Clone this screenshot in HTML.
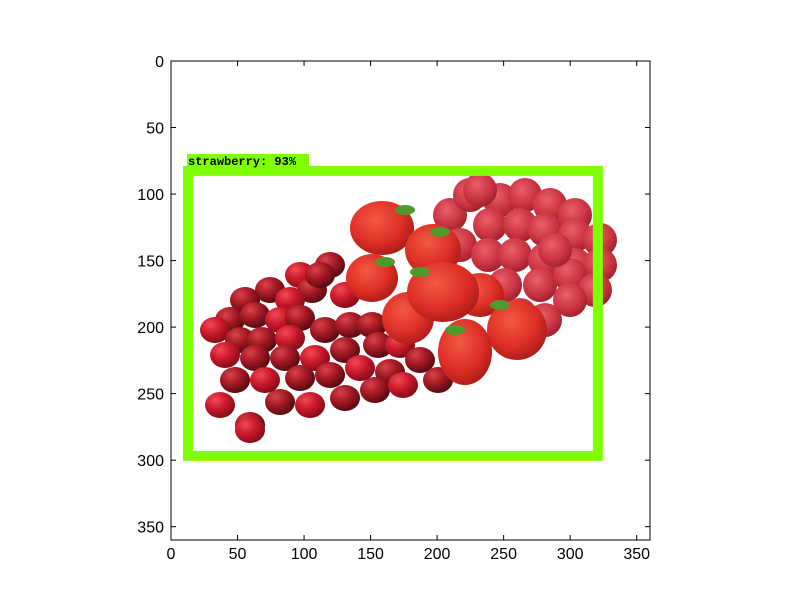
<!DOCTYPE html>
<html><head><meta charset="utf-8"><style>
body{margin:0;background:#fff;width:800px;height:600px;overflow:hidden}
svg text{font-family:"Liberation Sans",sans-serif;font-size:16px;fill:#000}
</style></head><body>
<svg id="c" width="800" height="600" xmlns="http://www.w3.org/2000/svg">
<defs>
<radialGradient id="cran" cx="35%" cy="30%" r="70%"><stop offset="0" stop-color="#d9424a"/><stop offset="0.5" stop-color="#a51a24"/><stop offset="1" stop-color="#5a0a12"/></radialGradient>
<radialGradient id="cran2" cx="35%" cy="30%" r="70%"><stop offset="0" stop-color="#f04a55"/><stop offset="0.5" stop-color="#cc1a2c"/><stop offset="1" stop-color="#8a0c1a"/></radialGradient>
<radialGradient id="straw" cx="40%" cy="35%" r="70%"><stop offset="0" stop-color="#f25a45"/><stop offset="0.6" stop-color="#de2e26"/><stop offset="1" stop-color="#a81a18"/></radialGradient>
<radialGradient id="rasp" cx="40%" cy="35%" r="70%"><stop offset="0" stop-color="#e8606a"/><stop offset="0.6" stop-color="#cc3442"/><stop offset="1" stop-color="#9a1e2c"/></radialGradient>
</defs>
<g id="img"></g>
<g id="axes"></g>
</svg>
<script>
const xTicks=[0,50,100,150,200,250,300,350];
const yTicks=[0,50,100,150,200,250,300,350];
const boxCoords=[12.8,82.6,320.8,296.8];
const boxLabel=["strawberry: 93%"];
const X0=171,Y0=61,S=479/360,W=479,H=479;
const sx=v=>X0+v*S, sy=v=>Y0+v*S;
const NS="http://www.w3.org/2000/svg";
function mk(t,a,p){const e=document.createElementNS(NS,t);for(const k in a)e.setAttribute(k,a[k]);p.appendChild(e);return e;}
const img=document.getElementById('img'), ax=document.getElementById('axes');
// fruit (pixel positions of photo content)
const rasp=[[450,215],[470,195],[500,200],[525,195],[550,205],[575,215],[490,225],[520,225],[545,230],[575,235],[600,240],[460,245],[488,255],[515,255],[545,260],[575,265],[600,265],[505,285],[540,285],[570,275],[595,290],[520,315],[545,320],[570,300],[555,250],[480,190]];
rasp.forEach(p=>{const e=mk('circle',{cx:p[0],cy:p[1],r:17,fill:'url(#rasp)'},img);});
const cran=[[300,275],[330,265],[312,290],[345,295],[270,290],[245,300],[290,300],[230,320],[255,315],[280,320],[300,318],[325,330],[215,330],[240,340],[262,340],[290,338],[350,325],[372,325],[225,355],[255,358],[285,358],[315,358],[345,350],[378,345],[400,345],[410,320],[235,380],[265,380],[300,378],[330,375],[360,368],[390,372],[420,360],[220,405],[250,425],[280,402],[310,405],[345,398],[375,390],[403,385],[438,380],[320,275],[250,430]];
cran.forEach((p,i)=>{const e=mk('ellipse',{cx:p[0],cy:p[1],rx:15,ry:13,fill:i%3==0?'url(#cran2)':'url(#cran)'},img);});
const straw=[[382,228,32,27],[433,250,28,26],[372,278,26,24],[408,318,26,26],[480,295,24,22],[517,330,30,30],[465,352,27,33],[443,292,36,30]];
straw.forEach(p=>{const e=mk('ellipse',{cx:p[0],cy:p[1],rx:p[2],ry:p[3],fill:'url(#straw)'},img);});
[[405,210],[440,232],[385,262],[420,272],[500,305],[455,330]].forEach(p=>{const e=mk('ellipse',{cx:p[0],cy:p[1],rx:10,ry:5,fill:'#4f9a2a'},img);});
// box
const b=mk('rect',{x:sx(boxCoords[0]),y:sy(boxCoords[1]),width:(boxCoords[2]-boxCoords[0])*S,height:(boxCoords[3]-boxCoords[1])*S,fill:'none',stroke:'#7fff00','stroke-width':10},img);

const lb=mk('rect',{x:sx(boxCoords[0])-1,y:sy(boxCoords[1])-17,width:122,height:14,fill:'#7fff00'},img);

const lt=mk('text',{x:sx(boxCoords[0]),y:sy(boxCoords[1])-6,style:'font-family:"Liberation Mono",monospace;font-size:12px;font-weight:bold'},img);
lt.textContent=boxLabel[0];
// frame
const f=mk('rect',{x:X0,y:Y0,width:W,height:H,fill:'none',stroke:'#000','stroke-width':1},ax);

xTicks.forEach(v=>{const x=sx(v);
mk('line',{x1:x,x2:x,y1:Y0+H,y2:Y0+H-5,stroke:'#000'},ax);mk('line',{x1:x,x2:x,y1:Y0,y2:Y0+5,stroke:'#000'},ax);
const t=mk('text',{x:x,y:Y0+H+19,'text-anchor':'middle'},ax);t.textContent=v;
});
yTicks.forEach(v=>{const y=sy(v);
mk('line',{x1:X0,x2:X0+5,y1:y,y2:y,stroke:'#000'},ax);mk('line',{x1:X0+W,x2:X0+W-5,y1:y,y2:y,stroke:'#000'},ax);
const t=mk('text',{x:X0-7,y:y+6,'text-anchor':'end'},ax);t.textContent=v;
});
</script>
</body></html>
